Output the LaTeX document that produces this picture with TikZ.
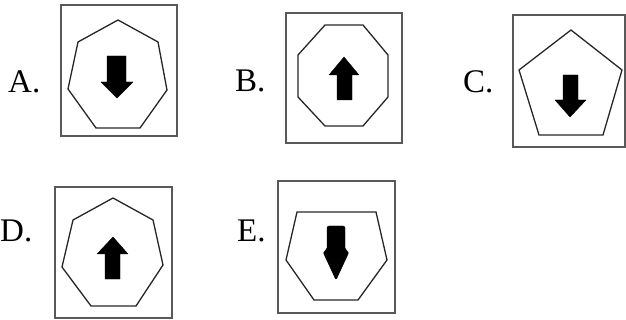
\documentclass[tikz,border=0pt]{standalone}
\usepackage{fontspec}
\setmainfont{Liberation Serif}
\tikzset{
  frame/.style={draw=black!65,line width=1.3pt},
  poly/.style={draw=black!85,line width=1.3pt,line join=miter},
  arrowfill/.style={fill=black,draw=black,line width=0.4pt,line join=round},
  optlabel/.style={anchor=base west,inner sep=0pt,font=\fontsize{33}{36}\selectfont}
}
\begin{document}
\begin{tikzpicture}[x=1pt,y=-1pt]
  \useasboundingbox (0,0) rectangle (626,320);
  %
  % Labels
  \node[optlabel] (labA) at (8,93) {A.};
  \node[optlabel] (labB) at (235,92) {B.};
  \node[optlabel] (labC) at (463,93) {C.};
  \node[optlabel] (labD) at (0,242) {D.};
  \node[optlabel] (labE) at (237,242) {E.};
  %
  % Frames
  \draw[frame] (61,5) rectangle (177,136);
  \draw[frame] (286,13) rectangle (402,143);
  \draw[frame] (513,15) rectangle (625,147);
  \draw[frame] (55,187) rectangle (172,318);
  \draw[frame] (278,181) rectangle (395,313);
  %
  % Polygons
  \draw[poly] (118,20) -- (158,42) -- (167,90) -- (140,128) -- (96,128)
    -- (68,89) -- (78,42) -- cycle;
  \draw[poly] (325,25) -- (363,25) -- (388,55) -- (388,97) -- (363,126)
    -- (325,126) -- (298,97) -- (298,55) -- cycle;
  \draw[poly] (571,30) -- (622,70) -- (603,135) -- (539,135) -- (519,70) -- cycle;
  \draw[poly] (113,198) -- (153,220) -- (163,265) -- (136,306) -- (91,306)
    -- (62,267) -- (73,220) -- cycle;
  \draw[poly] (297,212) -- (376,212) -- (387,260) -- (358,300) -- (314,300)
    -- (286,260) -- cycle;
  %
  % Arrows
  \filldraw[arrowfill] (107,56) -- (126,56) -- (126,82) -- (133,82) -- (117,98)
    -- (101,82) -- (107,82) -- cycle;
  \filldraw[arrowfill] (337,100) -- (352,100) -- (352,75) -- (359,75) -- (344,57)
    -- (329,75) -- (337,75) -- cycle;
  \filldraw[arrowfill] (563,75) -- (578,75) -- (578,100) -- (586,100) -- (570,117)
    -- (555,100) -- (563,100) -- cycle;
  \filldraw[arrowfill] (105,279) -- (120,279) -- (120,254) -- (128,254) -- (113,237)
    -- (97,254) -- (105,254) -- cycle;
  \filldraw[arrowfill,rounded corners=2pt] (327,226) -- (345,226) -- (345,250)
    -- (349,252) -- (336,280) -- (323,252) -- (327,250) -- cycle;
  %
\end{tikzpicture}
\end{document}
